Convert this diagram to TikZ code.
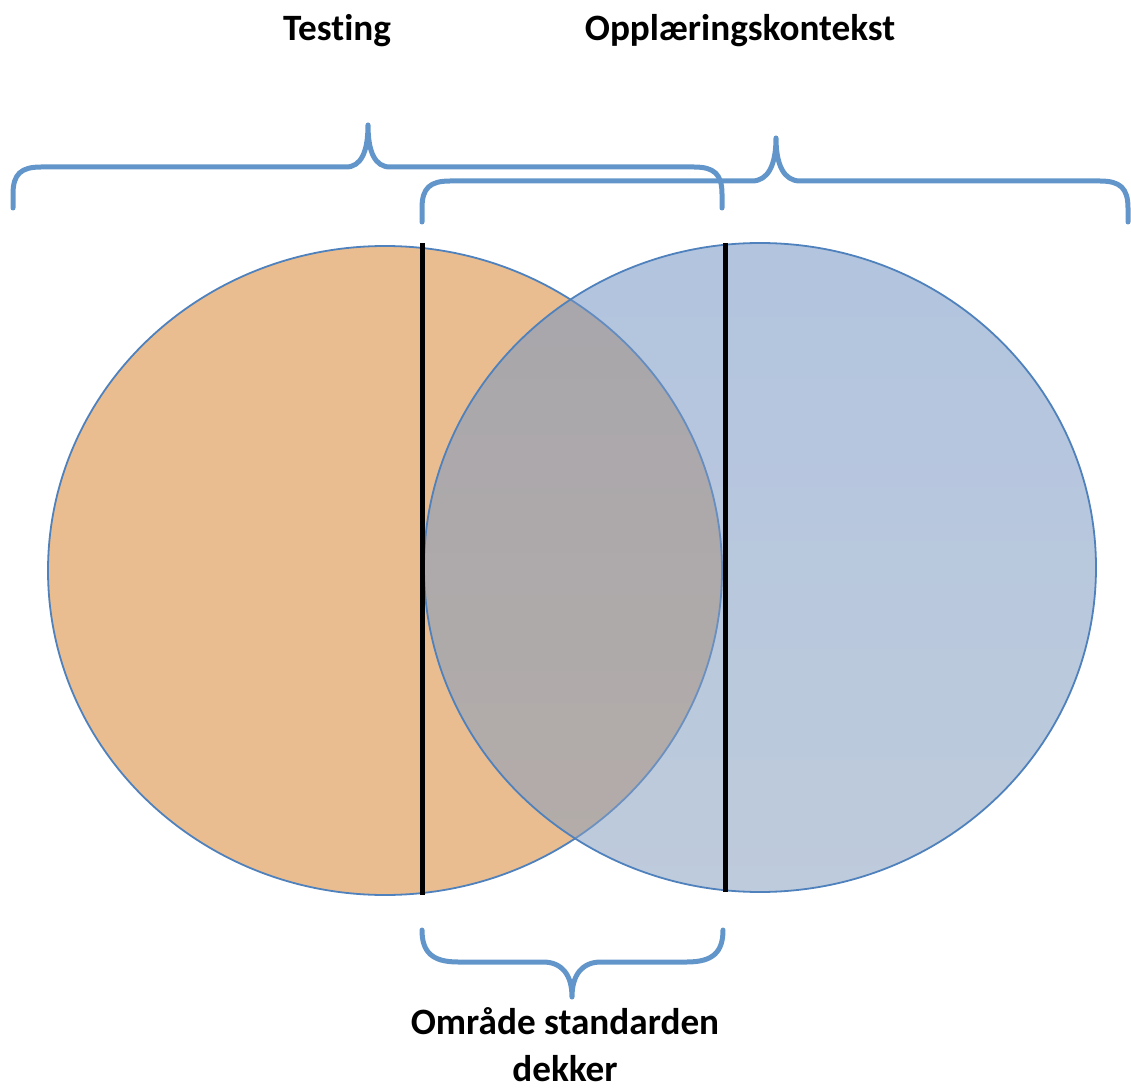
\documentclass[tikz,border=0pt]{standalone}
\usepackage{fontspec}
\setmainfont[Ligatures=NoCommon]{Carlito}

\definecolor{oransje}{RGB}{233,189,144}
\definecolor{blaatopp}{RGB}{115,148,195}
\definecolor{blaabunn}{RGB}{137,160,191}
\definecolor{kant}{RGB}{79,129,189}
\definecolor{klammefarge}{RGB}{98,150,202}

\tikzset{
  sirkel/.style={draw=kant, line width=0.9pt},
  skille/.style={draw=black, line width=2.5pt},
  klamme/.style={draw=klammefarge, line width=2.5pt, line cap=round, line join=round},
  tittel/.style={font=\fontsize{18.6}{24}\selectfont\bfseries, inner sep=0pt}
}

\begin{document}
\begin{tikzpicture}[x=0.5pt, y=-0.5pt]
\useasboundingbox (0,0) rectangle (1131,1091);

% sirklene
\coordinate (venstre) at (385,570.5);
\coordinate (hoyre) at (760,567.5);
\fill[oransje, sirkel] (venstre) ellipse [x radius=337, y radius=324.5];
\shade[top color=blaatopp, bottom color=blaabunn, fill opacity=0.55] (hoyre) ellipse [x radius=336, y radius=324.5];
\draw[sirkel] (hoyre) ellipse [x radius=336, y radius=324.5];

% skillelinjer
\coordinate (v1) at (422,243);
\coordinate (v2) at (422,895);
\coordinate (h1) at (725,243);
\coordinate (h2) at (725,892);
\draw[skille] (v1) -- (v2);
\draw[skille] (h1) -- (h2);

% klammer
\draw[klamme] (422,222) -- (422,208) .. controls (422,188) and (430,181) .. (450,181)
  -- (752,181) .. controls (768,181) and (776,165) .. (776,138)
  .. controls (776,165) and (784,181) .. (800,181)
  -- (1100,181) .. controls (1120,181) and (1128,188) .. (1128,208) -- (1128,222);

\draw[klamme] (13,208) -- (13,194) .. controls (13,174) and (21,167) .. (41,167)
  -- (346,167) .. controls (361,167) and (368,152) .. (368,125)
  .. controls (368,152) and (375,167) .. (390,167)
  -- (694,167) .. controls (714,167) and (722,174) .. (722,194) -- (722,208);

\draw[klamme] (422,930) .. controls (422,952) and (432,962) .. (458,962)
  -- (543,962) .. controls (562,962) and (572,975) .. (572,997)
  .. controls (572,975) and (582,962) .. (601,962)
  -- (687,962) .. controls (713,962) and (723,952) .. (723,930);

% tekst
\node[tittel, anchor=base] (testing) at (337,41) {Testing};
\node[tittel, anchor=base] (kontekst) at (740,41) {Opplæringskontekst};
\node[tittel, anchor=base] (omraade) at (565,1034) {Område standarden};
\node[tittel, anchor=base] (dekker) at (565,1081) {dekker};
\end{tikzpicture}
\end{document}
